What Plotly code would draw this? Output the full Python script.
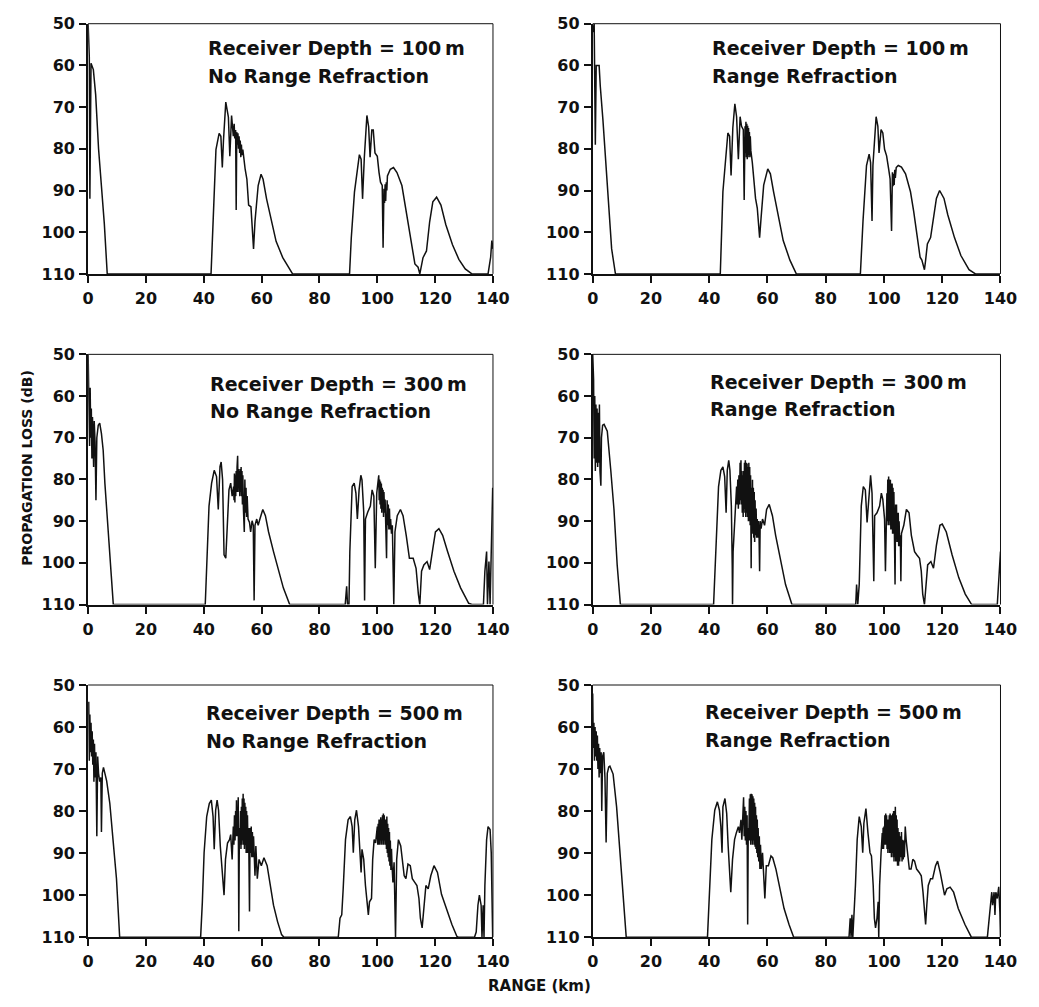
import plotly.graph_objects as go
from plotly.subplots import make_subplots

# Propagation loss (dB) versus range (km) for three receiver depths,
# without and with range refraction. Each list holds (range_km, loss_dB)
# samples; losses of 110 dB and more sit on the bottom of the scale.

loss_100m_no_refr = [
    (0, 50), (0.4, 58), (0.6, 92), (1.0, 59.5), (1.8, 61), (2.6, 67), (3.6, 80), (4.7, 89),
    (5.6, 98), (6.6, 110), (42.5, 110), (44.2, 80.2), (45.3, 76.3), (45.9, 77), (46.4, 84.5),
    (46.8, 78), (47.6, 68.8), (48.5, 72.4), (49.0, 81.8), (49.6, 72), (50.2, 77), (50.5, 74),
    (50.7, 77.5), (51.0, 75.5), (51.2, 94.7), (51.4, 76), (51.6, 79), (51.8, 76.3), (52.0, 80),
    (52.2, 77), (52.4, 81), (52.6, 78), (52.8, 82), (53.0, 79), (53.2, 81.5), (53.5, 80.2),
    (53.8, 82.5), (54.3, 84.9), (54.9, 87.3), (55.5, 93.5), (56.3, 93.9), (57.2, 104),
    (57.7, 97.4), (58.8, 88.8), (59.8, 86.1), (60.5, 87.3), (61.7, 92), (63.4, 97.5),
    (65.0, 102.2), (67.3, 106.1), (70.1, 109.6), (70.7, 110), (90.4, 110), (91.0, 101.4),
    (92.1, 90.4), (93.8, 81.4), (94.4, 82.5), (94.9, 92), (95.5, 82.2), (96.4, 72),
    (97.0, 74.7), (97.5, 82), (98.1, 75.5), (98.6, 75.5), (99.2, 81), (100.0, 81.8),
    (100.6, 85.7), (101.1, 88), (101.7, 88.8), (102.0, 103.7), (102.3, 89.6), (102.5, 93),
    (102.7, 88.5), (102.9, 92.5), (103.1, 88), (103.3, 90), (103.5, 86.5), (104.5, 84.9),
    (105.6, 84.5), (106.8, 85.7), (108.5, 88.8), (109.6, 93.5), (110.7, 98.2), (111.8, 103),
    (113.0, 107.6), (114.1, 108.4), (114.7, 110), (115.8, 106.1), (117.0, 104.5),
    (118.1, 97.5), (119.2, 92.7), (120.5, 91.6), (122.0, 93.5), (123.7, 98.2), (126.0, 103),
    (128.2, 106.5), (130.4, 108.8), (132.7, 110), (138.3, 110), (139.2, 106), (139.6, 102),
    (140.0, 104),
]

loss_100m_refr = [
    (0, 52), (0.5, 50), (0.9, 79), (1.2, 60), (2.2, 60), (2.6, 65), (3.5, 73), (4.5, 84),
    (5.5, 95), (6.5, 104), (7.8, 110), (43.8, 110), (44.7, 90.3), (45.9, 79.3), (46.4, 76.2),
    (47.0, 77), (47.5, 86.4), (48.1, 75), (48.8, 69.2), (49.4, 72.3), (50.0, 82.5),
    (50.6, 72.3), (51.1, 74.6), (51.7, 75.4), (52.0, 92.3), (52.3, 74.6), (52.45, 81),
    (52.6, 73.5), (52.75, 82), (52.9, 74), (53.05, 82.5), (53.2, 74.5), (53.35, 82),
    (53.5, 75), (53.65, 81.5), (53.8, 76), (53.95, 82), (54.1, 77), (54.3, 80.5),
    (54.8, 83.3), (55.9, 91.9), (56.5, 94.2), (57.3, 101.3), (57.8, 96.6), (58.7, 88.7),
    (60.1, 84.8), (61.0, 86), (62.1, 90.3), (63.8, 96.6), (65.4, 102), (67.7, 106.7),
    (69.9, 110), (91.9, 110), (92.8, 97.3), (94.0, 84), (94.9, 81.3), (95.4, 83.3),
    (95.9, 97.3), (96.2, 84), (97.3, 72.3), (97.9, 74.6), (98.3, 81), (99.0, 75.4),
    (99.6, 76.2), (100.2, 80.1), (100.9, 81.7), (101.6, 84.8), (102.1, 87.2), (102.6, 99.7),
    (102.9, 85.6), (103.1, 89), (103.3, 86), (103.5, 88.7), (103.7, 85), (103.9, 87),
    (104.2, 84.5), (104.9, 84), (106.0, 84.4), (107.4, 86), (109.1, 90.3), (110.2, 95),
    (111.3, 100.5), (112.4, 106), (113.0, 106.7), (113.9, 109), (114.3, 106.7),
    (114.9, 102.8), (116.0, 101.3), (116.9, 97.3), (118.0, 91.9), (119.1, 90), (120.6, 91.9),
    (121.9, 95.8), (124.2, 101.3), (126.4, 105.6), (129.2, 109), (131.4, 110), (140.0, 110),
]

loss_300m_no_refr = [
    (0, 50), (0.3, 62), (0.5, 72), (0.7, 58), (0.9, 70), (1.1, 63), (1.3, 75), (1.5, 65),
    (1.7, 71), (1.9, 77), (2.1, 66), (2.4, 71), (2.7, 85), (3.0, 70), (3.5, 67), (4.0, 66.5),
    (4.6, 69), (5.2, 73), (5.8, 81), (6.4, 88), (7.2, 95), (8.0, 103), (8.7, 110),
    (40.5, 110), (41.1, 97.3), (41.8, 86.4), (42.7, 80.9), (43.6, 77.8), (44.4, 79.3),
    (45.0, 87.2), (45.6, 76.9), (46.0, 75.8), (46.5, 80.1), (47.0, 98.1), (47.6, 98.9),
    (48.1, 89.5), (48.7, 82.5), (49.3, 80.9), (49.8, 84), (50.3, 81.7), (50.45, 85),
    (50.6, 78.6), (50.75, 85.5), (50.9, 79), (51.05, 84), (51.2, 78), (51.35, 83), (51.5, 77),
    (51.7, 74.3), (51.85, 83), (52.0, 77.5), (52.15, 82), (52.3, 78), (52.45, 84),
    (52.6, 77.5), (52.75, 83), (52.9, 77), (53.05, 84), (53.2, 78), (53.35, 86), (53.5, 79),
    (53.7, 87), (54.0, 92.6), (54.2, 80), (54.4, 88), (54.6, 82), (54.8, 89), (55.0, 84),
    (55.3, 89.5), (55.8, 90.3), (56.2, 92.6), (56.7, 89.9), (57.1, 91), (57.4, 109),
    (57.7, 91), (58.3, 89.5), (58.8, 91), (59.4, 89.5), (60.4, 87.2), (61.3, 88.7),
    (62.4, 92.6), (64.1, 97.3), (65.8, 102), (67.5, 106), (69.7, 110), (88.9, 110),
    (89.4, 105.6), (89.7, 110), (90.2, 110), (90.5, 97.3), (91.3, 81.7), (92.0, 80.9),
    (92.6, 83.3), (93.1, 89.5), (93.7, 82.5), (94.3, 79), (94.7, 80.1), (95.3, 87.8),
    (95.6, 109), (95.9, 89.5), (96.7, 87.8), (97.6, 86.4), (98.2, 82.5), (98.8, 84),
    (99.3, 101.3), (99.8, 83.3), (100.5, 79), (100.65, 85), (100.8, 80), (100.95, 86),
    (101.1, 80.5), (101.25, 87), (101.4, 81), (101.55, 88), (101.7, 82), (101.85, 87),
    (102.0, 82.5), (102.15, 89), (102.3, 83), (102.5, 88), (102.7, 84.8), (102.9, 90),
    (103.2, 98.9), (103.4, 85), (103.6, 91), (103.8, 86), (104.0, 92), (104.2, 87),
    (104.4, 92), (104.6, 89.5), (104.9, 93), (105.2, 91), (105.7, 110), (106.1, 92.6),
    (106.9, 88.7), (108.0, 87.2), (108.9, 88.7), (110.0, 93.4), (111.1, 98.9), (112.4, 98.9),
    (113.4, 101.3), (114.2, 107.5), (114.7, 110), (115.3, 102), (116.1, 100.5),
    (117.2, 99.7), (118.1, 101.6), (119.2, 96.6), (120.1, 92.6), (121.3, 91.8), (122.6, 93.4),
    (124.3, 97.3), (126.5, 102), (128.8, 106), (131.6, 109.7), (132.7, 110), (136.7, 110),
    (137.2, 102), (137.8, 97.3), (138.1, 110), (138.6, 99.7), (139.0, 110), (139.5, 97.3),
    (139.9, 82),
]

loss_300m_refr = [
    (0, 50), (0.3, 56), (0.5, 75), (0.7, 60), (0.9, 78), (1.1, 62), (1.3, 76), (1.5, 63),
    (1.7, 77), (1.9, 64), (2.1, 76), (2.3, 62), (2.5, 78), (2.8, 81.5), (3.0, 70), (3.4, 67),
    (3.9, 66.8), (5.0, 68.4), (6.2, 77.8), (7.3, 87.2), (8.4, 100.5), (9.5, 110),
    (41.5, 110), (42.4, 93.4), (43.2, 81.7), (44.0, 77.8), (44.7, 77), (45.3, 79.3),
    (45.8, 88), (46.2, 77.8), (46.7, 75.4), (47.1, 77.8), (47.6, 86.4), (47.9, 100.5),
    (48.0, 110), (48.2, 97.3), (48.8, 88), (49.4, 81.7), (49.6, 86), (49.8, 80), (50.0, 87),
    (50.2, 79), (50.4, 86), (50.6, 76), (50.75, 85), (50.9, 75.4), (51.05, 86), (51.2, 78),
    (51.35, 88), (51.5, 79), (51.65, 89), (51.8, 78), (51.95, 87), (52.1, 76), (52.25, 88),
    (52.4, 75.4), (52.55, 89), (52.7, 76), (52.85, 88), (53.0, 76.2), (53.15, 89), (53.3, 77),
    (53.45, 90), (53.6, 76), (53.75, 90), (53.9, 77), (54.05, 91), (54.2, 79), (54.4, 101.3),
    (54.55, 82), (54.7, 92), (54.85, 80.1), (55.0, 93), (55.15, 82), (55.3, 94), (55.45, 83),
    (55.6, 95), (55.75, 85), (55.9, 93.4), (56.1, 87), (56.3, 94), (56.5, 89.5), (56.7, 94),
    (56.9, 90), (57.1, 93), (57.3, 102), (57.5, 90), (57.8, 91.8), (58.3, 89.5), (59.0, 91),
    (59.7, 87.2), (60.6, 86), (61.7, 88.7), (62.8, 93.4), (64.5, 99.7), (66.2, 105.2),
    (68.4, 110), (90.3, 110), (90.6, 105.2), (91.0, 110), (91.5, 105.2), (92.2, 86.4),
    (92.9, 81.7), (93.6, 82.5), (94.2, 90.3), (94.8, 83.3), (95.4, 79), (95.9, 83.3),
    (96.5, 104.4), (96.8, 88.7), (97.6, 88), (98.5, 86.4), (99.1, 83.3), (99.6, 84.8),
    (100.2, 89.5), (100.5, 102), (101.0, 83.3), (101.15, 90), (101.3, 80), (101.45, 91),
    (101.6, 79.3), (101.75, 90), (101.9, 80), (102.05, 91), (102.2, 80.1), (102.35, 92),
    (102.5, 81), (102.65, 92), (102.8, 81), (102.95, 93), (103.1, 82), (103.25, 93),
    (103.4, 83), (103.6, 94), (103.8, 105.2), (104.0, 86), (104.15, 94), (104.3, 86),
    (104.45, 95), (104.6, 88), (104.75, 95), (104.9, 88), (105.05, 96), (105.2, 90),
    (105.4, 96), (105.6, 93.4), (105.8, 104.4), (106.0, 93), (106.2, 92.6), (106.8, 91),
    (107.7, 87.2), (108.6, 88), (109.4, 93.4), (110.5, 97.3), (111.3, 98.1), (112.2, 98.9),
    (112.8, 102), (113.3, 107.5), (113.9, 110), (114.2, 106.7), (115.0, 100.5),
    (116.1, 99.7), (117.0, 101.3), (118.0, 95.8), (119.2, 91), (120.0, 90.7), (121.4, 92.6),
    (123.4, 98.1), (125.7, 103.6), (127.9, 107.5), (130.1, 110), (138.9, 110),
    (139.7, 98.1), (140.0, 97.3),
]

loss_500m_no_refr = [
    (0, 57), (0.2, 54), (0.4, 68), (0.6, 57), (0.8, 66), (1.0, 59), (1.2, 67), (1.4, 61),
    (1.6, 69), (1.8, 63), (2.0, 73), (2.2, 64), (2.4, 72), (2.7, 66), (3.0, 86), (3.3, 67),
    (3.6, 71), (4.0, 73), (4.4, 72), (4.6, 85), (4.9, 71), (5.3, 69.6), (6.4, 72.8),
    (7.5, 78.2), (8.6, 86.8), (9.8, 96.1), (10.9, 110), (38.9, 110), (39.5, 101.6),
    (40.1, 89.9), (41.0, 81.3), (41.9, 78.2), (42.6, 77.4), (43.2, 81.3), (43.6, 89.1),
    (44.1, 79.8), (44.6, 77.4), (45.1, 79.8), (45.7, 88.3), (46.4, 93.8), (47.0, 100),
    (47.5, 91.5), (48.2, 87.6), (48.9, 86.8), (49.3, 85.6), (49.8, 91.5), (50.2, 83.7),
    (50.4, 88), (50.6, 81), (50.8, 87), (51.0, 80), (51.15, 86), (51.3, 77.4), (51.45, 86),
    (51.6, 79), (51.75, 85), (51.9, 76.7), (52.1, 108.6), (52.3, 84), (52.5, 88), (52.7, 80),
    (52.85, 89), (53.0, 79), (53.15, 88), (53.3, 77), (53.45, 87), (53.6, 75.9), (53.75, 88),
    (53.9, 77), (54.05, 89), (54.2, 78), (54.35, 88), (54.5, 79), (54.65, 90), (54.8, 80),
    (54.95, 90), (55.1, 81), (55.3, 90), (55.5, 84), (55.8, 103.9), (56.0, 84), (56.2, 90),
    (56.4, 83.7), (56.6, 91), (56.8, 85), (57.0, 91), (57.2, 86), (57.4, 89), (57.7, 95.4),
    (58.0, 88.3), (58.5, 96.1), (59.1, 91.5), (59.9, 93), (60.8, 91.1), (61.9, 93),
    (63.0, 97.7), (64.1, 102.4), (65.5, 106.3), (66.9, 109.4), (67.7, 110), (86.5, 110),
    (87.1, 105.5), (87.7, 104.7), (88.2, 98.5), (89.0, 86.8), (89.9, 82.1), (90.7, 81.3),
    (91.3, 83.7), (91.7, 89.9), (92.2, 82.1), (92.8, 79.8), (93.5, 83.7), (94.0, 89.1),
    (94.4, 94.6), (94.7, 89.1), (95.3, 91.5), (95.9, 97.7), (96.4, 100.8), (96.9, 104.7),
    (97.3, 101.6), (98.0, 100.8), (98.4, 91.5), (98.9, 86.8), (99.4, 87.6), (100.0, 83.7),
    (100.15, 88), (100.3, 83), (100.45, 88), (100.6, 82), (100.75, 88), (100.9, 82),
    (101.05, 87), (101.2, 81.5), (101.35, 88), (101.5, 82), (101.65, 87), (101.8, 81),
    (101.95, 88), (102.1, 80.6), (102.25, 88), (102.4, 81), (102.55, 87), (102.7, 82),
    (102.85, 88), (103.0, 82), (103.15, 89), (103.3, 81.3), (103.45, 90), (103.6, 83),
    (103.75, 91), (103.9, 84), (104.05, 92), (104.2, 85), (104.35, 93), (104.5, 87),
    (104.7, 94), (104.9, 89), (105.1, 93), (105.4, 97), (105.8, 92.2), (106.3, 110),
    (106.7, 91.5), (107.3, 86.8), (108.1, 88.3), (108.8, 93), (109.3, 95.4), (109.9, 96.1),
    (110.6, 92.6), (111.4, 93), (112.1, 96.1), (112.9, 96.9), (113.7, 97.7), (114.4, 100.8),
    (114.9, 105.5), (115.5, 107.8), (116.0, 103.2), (116.8, 97.7), (117.6, 98.5),
    (118.5, 95.4), (119.6, 93), (120.8, 94.6), (122.2, 99.8), (124.1, 103.9), (125.8, 107),
    (127.5, 109.8), (128.0, 110), (133.6, 110), (134.2, 108.8), (134.8, 102.4), (135.3, 100),
    (135.9, 102.4), (136.2, 110), (136.6, 102.4), (136.9, 110), (137.2, 97.7), (137.8, 86.8),
    (138.3, 83.7), (139.0, 84.4), (139.4, 89.9), (139.9, 110),
]

loss_500m_refr = [
    (0, 52), (0.2, 65), (0.4, 59), (0.6, 68), (0.8, 60), (1.0, 67), (1.2, 61), (1.4, 68),
    (1.6, 62), (1.8, 70), (2.0, 64), (2.2, 72), (2.4, 65), (2.6, 71), (2.9, 66), (3.1, 80),
    (3.4, 67), (3.8, 66), (4.2, 72), (4.6, 87.5), (5.0, 71), (5.5, 69.5), (5.9, 69.3),
    (7.0, 71.2), (8.2, 79), (9.3, 89.1), (10.4, 100), (11.5, 110), (39.4, 110), (40.1, 97.7),
    (40.9, 86.8), (41.9, 79.8), (42.8, 77.8), (43.5, 79.8), (44.0, 83.7), (44.4, 89.9),
    (44.7, 79), (45.4, 77), (46.0, 80.6), (46.5, 88.3), (47.1, 95.4), (47.4, 99.3),
    (48.0, 91.5), (48.7, 86.8), (49.3, 85.2), (50.0, 83.7), (50.4, 85.2), (50.9, 82.1),
    (51.2, 86.8), (51.5, 80), (51.8, 76.7), (52.0, 86), (52.2, 79), (52.4, 87), (52.6, 80),
    (52.8, 88), (53.0, 81), (53.2, 107), (53.4, 84), (53.6, 87), (53.8, 77), (53.95, 87),
    (54.1, 76), (54.25, 88), (54.4, 75.9), (54.55, 87), (54.7, 76), (54.85, 88), (55.0, 76.5),
    (55.15, 87), (55.3, 77), (55.45, 88), (55.6, 78), (55.75, 88.5), (55.9, 79), (56.05, 89),
    (56.2, 81), (56.35, 90), (56.5, 82), (56.65, 91), (56.8, 84), (57.0, 92), (57.2, 86),
    (57.4, 93.8), (57.6, 88), (57.9, 93.8), (58.3, 89.9), (58.8, 96.1), (59.1, 100.8),
    (59.6, 93), (60.3, 93), (61.2, 90.7), (61.8, 91.1), (62.9, 93.8), (64.3, 98.5),
    (65.7, 103.2), (67.4, 107), (69.0, 110), (88.0, 110), (88.4, 105.5), (88.7, 110),
    (89.0, 104.7), (89.3, 110), (89.7, 105.5), (90.2, 97.7), (90.8, 86.8), (91.5, 81.3),
    (92.2, 83.7), (92.7, 89.9), (93.1, 82.9), (93.8, 79.4), (94.5, 85.2), (95.2, 89.9),
    (95.7, 90.7), (96.3, 97.7), (96.7, 105.5), (97.1, 107.8), (97.6, 105.5), (98.0, 101.6),
    (98.2, 110), (98.5, 97.7), (99.0, 89.9), (99.4, 85.2), (99.55, 89), (99.7, 84),
    (99.85, 89), (100.0, 83.7), (100.15, 88), (100.3, 81), (100.45, 88), (100.6, 80.6),
    (100.75, 88), (100.9, 81), (101.05, 89), (101.2, 82), (101.35, 90), (101.5, 82),
    (101.65, 89), (101.8, 81), (101.95, 90), (102.1, 80.6), (102.25, 90), (102.4, 81),
    (102.55, 91), (102.7, 81), (102.85, 90), (103.0, 80.6), (103.15, 91), (103.3, 80),
    (103.45, 92), (103.6, 80), (103.75, 91), (103.9, 79), (104.05, 92), (104.2, 81),
    (104.35, 92), (104.5, 82), (104.65, 93), (104.8, 84), (105.0, 93), (105.2, 85),
    (105.4, 92), (105.6, 86), (105.8, 91), (106.0, 85), (106.2, 92), (106.4, 86.8),
    (106.6, 91.5), (106.8, 87), (107.0, 91), (107.3, 83.7), (107.6, 86.8), (108.2, 91.5),
    (108.7, 93.8), (109.3, 93.8), (109.9, 91.5), (110.5, 91.9), (111.2, 93.8), (112.1, 94.6),
    (112.8, 95.4), (113.4, 99.3), (113.9, 104.7), (114.3, 107), (114.7, 102.4),
    (115.2, 97.7), (116.0, 96.1), (116.7, 96.1), (117.7, 93), (118.4, 91.9), (119.3, 94.6),
    (120.2, 98.5), (120.8, 100), (121.6, 98.5), (122.7, 98.1), (123.9, 99.3), (125.5, 103.2),
    (127.8, 107), (130.0, 110), (135.5, 110), (136.1, 105.5), (136.6, 100.8), (137.0, 99.3),
    (137.3, 102.4), (137.8, 99.3), (138.1, 104.7), (138.4, 99.3), (138.9, 100.8),
    (139.4, 98), (139.8, 104), (140.0, 110),
]

receiver_depths = ["100", "300", "500"]
refraction_labels = ["No Range Refraction", "Range Refraction"]
panel_series = [
    [loss_100m_no_refr, loss_100m_refr],
    [loss_300m_no_refr, loss_300m_refr],
    [loss_500m_no_refr, loss_500m_refr],
]
range_ticks = [0, 20, 40, 60, 80, 100, 120, 140]
loss_ticks = [50, 60, 70, 80, 90, 100, 110]

W, H = 1039, 1007
FONT = "DejaVu Sans"
INK = "#111111"


def px_x(p):
    return p / W


def px_y(p):
    return 1 - p / H


# plot-area boxes in pixels: columns (left, right), rows (top, bottom)
col_px = [(84, 498), (600, 1017)]
row_px = [(15, 270), (352, 607), (689, 946)]
# left end / first-line centre of each panel's two-line caption
caption_px = [
    [(205, 40), (720, 40)],
    [(207, 382), (718, 380)],
    [(202, 718), (713, 717)],
]

fig = make_subplots(rows=3, cols=2)

for ri in range(3):
    for ci in range(2):
        pts = panel_series[ri][ci]
        fig.add_trace(
            go.Scatter(
                x=[p[0] for p in pts],
                y=[p[1] for p in pts],
                mode="lines",
                line=dict(color=INK, width=1.5),
                showlegend=False,
                hoverinfo="skip",
            ),
            row=ri + 1,
            col=ci + 1,
        )
        idx = ri * 2 + ci + 1
        sfx = "" if idx == 1 else str(idx)
        x0, x1 = col_px[ci]
        ytop, ybot = row_px[ri]
        common = dict(
            ticks="outside",
            ticklen=7,
            tickwidth=2,
            tickcolor=INK,
            showline=True,
            linewidth=2,
            linecolor=INK,
            showgrid=False,
            zeroline=False,
            tickfont=dict(family=FONT, size=16, color=INK, weight="bold"),
        )
        fig.layout["xaxis" + sfx].update(
            domain=[px_x(x0), px_x(x1)],
            range=[0, 140],
            tickvals=range_ticks,
            ticklabelstandoff=2,
            **common,
        )
        fig.layout["yaxis" + sfx].update(
            domain=[px_y(ybot), px_y(ytop)],
            range=[110, 50],
            tickvals=loss_ticks,
            ticklabelstandoff=1,
            **common,
        )
        # thin top and right frame edges
        xr = "x" + sfx + " domain"
        yr = "y" + sfx + " domain"
        fig.add_shape(type="line", xref=xr, yref=yr, x0=0, x1=1, y0=1, y1=1,
                      line=dict(color=INK, width=1))
        fig.add_shape(type="line", xref=xr, yref=yr, x0=1, x1=1, y0=0, y1=1,
                      line=dict(color=INK, width=1))
        # caption
        cx, cy = caption_px[ri][ci]
        for k, txt in enumerate([
            "Receiver Depth = " + receiver_depths[ri] + "\u2009m",
            refraction_labels[ci],
        ]):
            fig.add_annotation(
                x=px_x(cx), y=px_y(cy + 28 * k), xref="paper", yref="paper",
                xanchor="left", yanchor="middle", showarrow=False, text=txt,
                font=dict(family=FONT, size=19, color=INK, weight="bold"),
            )

fig.add_annotation(
    x=px_x(22), y=px_y(468), xref="paper", yref="paper", showarrow=False,
    xanchor="center", yanchor="middle",
    text="PROPAGATION LOSS (dB)", textangle=-90,
    font=dict(family=FONT, size=14, color=INK, weight="bold"),
)
fig.add_annotation(
    x=px_x(546), y=px_y(996), xref="paper", yref="paper", showarrow=False,
    xanchor="center", yanchor="middle",
    text="RANGE (km)",
    font=dict(family=FONT, size=15, color=INK, weight="bold"),
)

fig.update_layout(
    width=W,
    height=H,
    margin=dict(l=0, r=0, t=0, b=0),
    paper_bgcolor="white",
    plot_bgcolor="white",
)

fig.write_html("out.html")
